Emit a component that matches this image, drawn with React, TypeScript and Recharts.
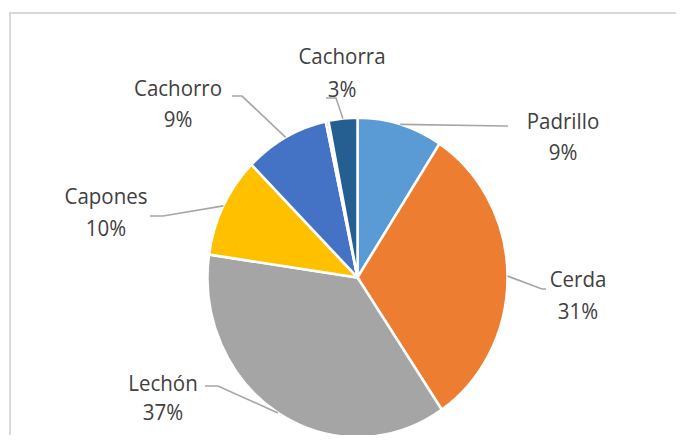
import React from 'react'
import { PieChart, Pie, Cell } from 'recharts'

const categories = ['Padrillo', 'Cerda', 'Lechón', 'Capones', 'Cachorro', 'Otros', 'Cachorra']
const shares = [9.2, 31.3, 36.8, 10.2, 9.1, 0.3, 3.1]
const colors = ['#5B9BD5', '#ED7D31', '#A5A5A5', '#FFC000', '#4472C4', '#70AD47', '#255E91']
const hiddenLabels = ['Otros']

// label placement (screen px): text centre x, name line y, pct line y, elbow of leader, end of leader
const LABEL_LAYOUT: Record<string, { x: number; y1: number; y2: number; ex: number; ey: number; hx: number }> = {
  Padrillo: { x: 563, y1: 120, y2: 151, ex: 506, ey: 126, hx: 508 },
  Cerda: { x: 578, y1: 278, y2: 310, ex: 542, ey: 289, hx: 546 },
  'Lechón': { x: 163, y1: 382, y2: 411, ex: 218, ey: 386, hx: 205 },
  Capones: { x: 106, y1: 195, y2: 227, ex: 163, ey: 216, hx: 150 },
  Cachorro: { x: 178, y1: 87, y2: 118, ex: 242, ey: 96, hx: 232 },
  Cachorra: { x: 342, y1: 55, y2: 88, ex: 336, ey: 98, hx: 326 },
}

const SY = 1.065
const RAD = Math.PI / 180
const data = categories.map((name, i) => ({ name, value: shares[i] }))

function renderLabel(props: any) {
  const { cx, cy, midAngle, outerRadius, name, percent } = props
  if (hiddenLabels.includes(name)) return null
  const l = LABEL_LAYOUT[name]
  if (!l) return null
  const ax = cx + outerRadius * Math.cos(-midAngle * RAD)
  const ay = cy + outerRadius * Math.sin(-midAngle * RAD)
  const pts = `${ax},${ay} ${l.ex},${l.ey / SY} ${l.hx},${l.ey / SY}`
  return (
    <g>
      <polyline points={pts} fill="none" stroke="#A6A6A6" strokeWidth={1.6} />
      <text x={l.x} y={l.y1 / SY} textAnchor="middle" dominantBaseline="central" fill="#404040" fontSize={20.5}>
        {name}
      </text>
      <text x={l.x} y={l.y2 / SY} textAnchor="middle" dominantBaseline="central" fill="#404040" fontSize={20.5}>
        {Math.round(percent * 100) + '%'}
      </text>
    </g>
  )
}

export default function App() {
  return (
    <div style={{ margin: -8, width: 684, height: 443, position: 'relative', overflow: 'hidden', background: '#fff', fontFamily: '"Open Sans", sans-serif' }}>
      <div
        style={{
          position: 'absolute',
          left: 9,
          top: 12,
          width: 720,
          height: 480,
          borderLeft: '2px solid #d9d9d9',
          borderTop: '2px solid #d9d9d9',
        }}
      />
      <div style={{ position: 'absolute', left: 0, top: 0, transform: `scaleY(${SY})`, transformOrigin: '0 0' }}>
        <PieChart width={684} height={416} margin={{ top: 0, right: 0, bottom: 0, left: 0 }}>
          <Pie
            data={data}
            dataKey="value"
            nameKey="name"
            cx={357.5}
            cy={260.6}
            outerRadius={150}
            startAngle={90}
            endAngle={-270}
            stroke="#ffffff"
            strokeWidth={2.5}
            label={renderLabel}
            labelLine={false}
            isAnimationActive={false}
          >
            {data.map((d, i) => (
              <Cell key={d.name} fill={colors[i]} />
            ))}
          </Pie>
        </PieChart>
      </div>
    </div>
  )
}
